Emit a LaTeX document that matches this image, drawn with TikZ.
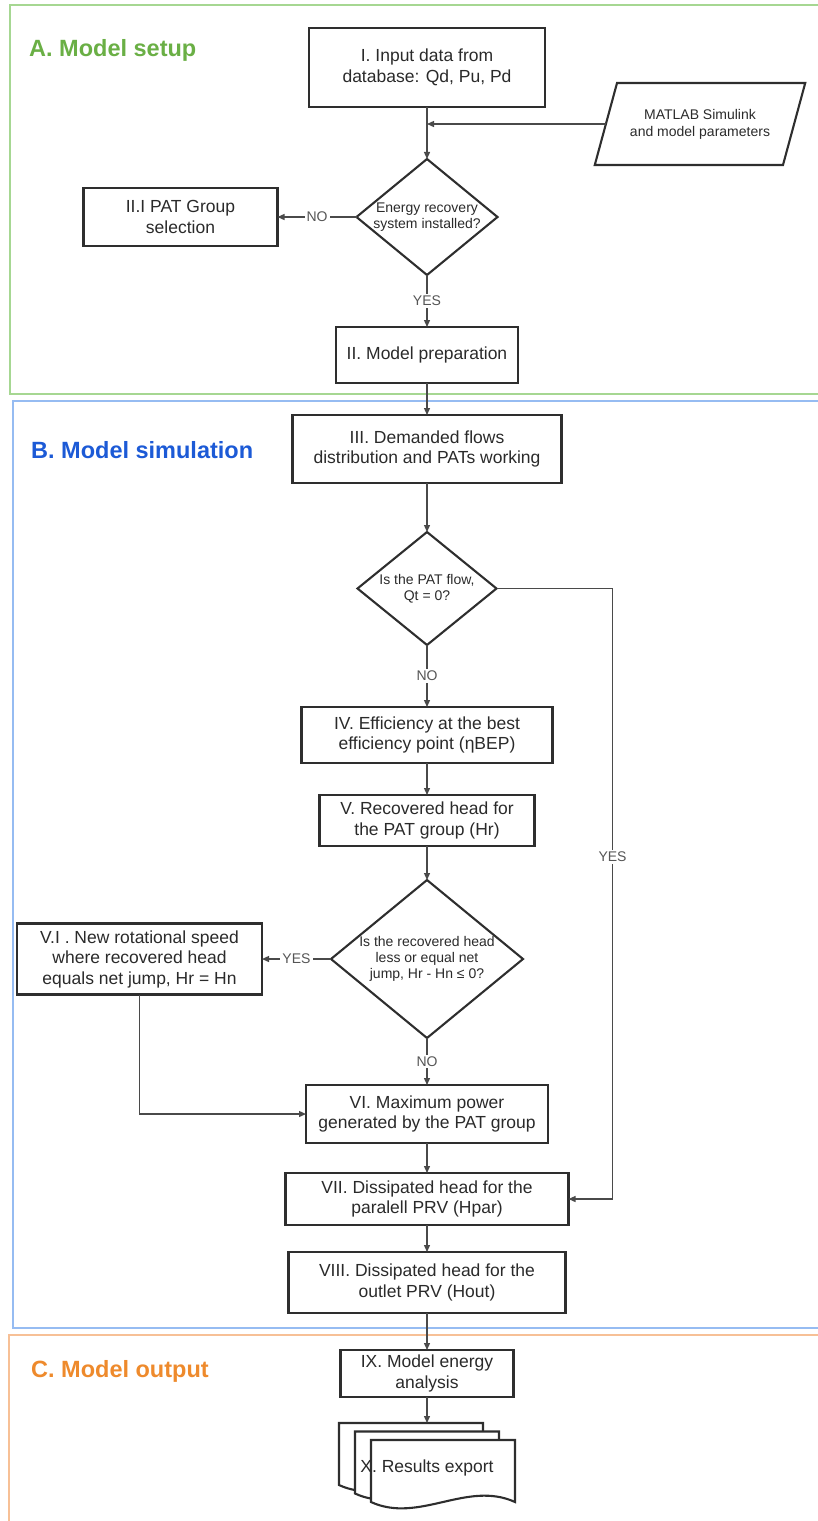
\documentclass[tikz,border=0pt]{standalone}
\usepackage{fontspec}
\setmainfont{Liberation Sans}
\usepackage{tikz}
\usetikzlibrary{positioning, calc, shapes.geometric, arrows.meta, backgrounds}
\definecolor{boxline}{HTML}{2E2E2E}
\definecolor{linegray}{HTML}{4A4A4A}
\definecolor{txtgray}{HTML}{2A2A2A}
\definecolor{lblgray}{HTML}{555555}
\definecolor{setupgreen}{HTML}{6AAF45}
\definecolor{setupframe}{HTML}{A6D792}
\definecolor{simblue}{HTML}{1C5AD6}
\definecolor{simframe}{HTML}{96BCF2}
\definecolor{outorange}{HTML}{EE8A2C}
\definecolor{outframe}{HTML}{F7C096}

\begin{document}
\begin{tikzpicture}[
        procbox/.style={rectangle, draw=boxline, line width=2.1pt, outer sep=0pt, text=txtgray, font=\fontsize{17.5}{20.5}\selectfont, align=center, inner sep=2pt},
        decision/.style={diamond, draw=boxline, line width=2.1pt, outer sep=0pt, inner sep=0pt},
        dtext/.style={text=txtgray, font=\fontsize{14}{16}\selectfont, align=center},
        datashape/.style={trapezium, trapezium left angle=58, trapezium right angle=122, trapezium stretches=true, draw=boxline, line width=2.1pt, outer sep=0pt, text=txtgray, font=\fontsize{14}{17}\selectfont, align=center, inner sep=0pt},
        flow/.style={-{Triangle[length=7pt,width=6pt]}, draw=linegray, line width=1.3pt},
        answer/.style={fill=white, text=lblgray, font=\fontsize{14}{16}\selectfont, inner sep=2pt},
        secframe/.style={line width=2pt},
        sectitle/.style={anchor=west, inner sep=0pt, font=\fontsize{23.5}{28}\selectfont\bfseries},
        sheet/.style={draw=boxline, line width=2.1pt, fill=white}]
    \useasboundingbox (0,0) rectangle (817pt,-1521pt);

    % section frames
    \draw[secframe, setupframe] (10pt,-5pt) rectangle (830pt,-394pt);
    \draw[secframe, simframe] (13pt,-401pt) rectangle (830pt,-1328pt);
    \draw[secframe, outframe] (9pt,-1335pt) rectangle (830pt,-1535pt);
    \node[sectitle, text=setupgreen] (titlesetup) at (29pt,-50pt) {A. Model setup};
    \node[sectitle, text=simblue] (titlesim) at (31pt,-450pt) {B. Model simulation};
    \node[sectitle, text=outorange] (titleout) at (31pt,-1371pt) {C. Model output};

    % model setup
    \node[procbox, minimum width=236pt, minimum height=79pt] (input) at (427pt,-67.5pt) {I. Input data from\\database: Qd, Pu, Pd};
    \node[datashape, minimum width=211pt, minimum height=82pt] (matlab) at ($(input)+(273pt,-56.5pt)$) {MATLAB Simulink\\and model parameters};
    \node[decision, minimum width=141pt, minimum height=116pt, below=52pt of input, label={[dtext]center:Energy recovery\\system installed?}] (recovery) {};
    \node[procbox, minimum width=194pt, minimum height=58pt, left=79pt of recovery] (groupsel) {II.I PAT Group\\selection};
    \node[procbox, minimum width=182pt, minimum height=56pt, below=52pt of recovery] (prep) {II. Model preparation};

    % model simulation
    \node[procbox, minimum width=269pt, minimum height=68pt, below=32pt of prep] (demand) {III. Demanded flows\\distribution and PATs working};
    \node[decision, minimum width=139pt, minimum height=113pt, below=49pt of demand, label={[dtext]center:Is the PAT flow,\\Qt = 0?}] (patflow) {};
    \node[procbox, minimum width=251pt, minimum height=56pt, below=62pt of patflow] (effic) {IV. Efficiency at the best\\efficiency point (ηBEP)};
    \node[procbox, minimum width=215pt, minimum height=51pt, below=32pt of effic] (rechead) {V. Recovered head for\\the PAT group (Hr)};
    \node[decision, minimum width=192pt, minimum height=158pt, below=34pt of rechead, label={[dtext]center:Is the recovered head\\less or equal net\\jump, Hr - Hn ≤ 0?}] (netjump) {};
    \node[procbox, minimum width=245pt, minimum height=71pt, left=69pt of netjump] (newspeed) {V.I . New rotational speed\\where recovered head\\equals net jump, Hr = Hn};
    \node[procbox, minimum width=242pt, minimum height=58pt, below=47pt of netjump] (maxpower) {VI. Maximum power\\generated by the PAT group};
    \node[procbox, minimum width=283pt, minimum height=52pt, below=30pt of maxpower] (parallel) {VII. Dissipated head for the\\paralell PRV (Hpar)};
    \node[procbox, minimum width=277pt, minimum height=61pt, below=27pt of parallel] (outlet) {VIII. Dissipated head for the\\outlet PRV (Hout)};

    % model output
    \node[procbox, minimum width=173pt, minimum height=47pt, below=37pt of outlet] (energy) {IX. Model energy\\analysis};
    \node[procbox, draw=none, minimum width=176pt, minimum height=79pt, text height=19pt, text depth=0pt, below=26pt of energy] (results) {X. Results export};
    \begin{scope}[on background layer]
        \foreach \k in {0,1,2}
            \draw[sheet, shift={($(results.north west)+(\k*16pt,-\k*8.5pt)$)}] (0,0) -- (0,-62pt) .. controls (48pt,-84pt) and (96pt,-40pt) .. (144pt,-62pt) -- (144pt,0) -- cycle;
    \end{scope}

    % connectors
    \coordinate (merge) at (input.south |- matlab.west);
    \draw[flow] (input) -- (recovery);
    \draw[flow] (matlab.west) -- (merge);
    \draw[flow] (recovery) -- node[answer] {NO} (groupsel);
    \draw[flow] (recovery) -- node[answer] {YES} (prep);
    \draw[flow] (prep) -- (demand);
    \draw[flow] (demand) -- (patflow);
    \draw[flow] (patflow) -- node[answer] {NO} (effic);
    \draw[flow] (patflow.east) -- ++(116pt,0) |- node[answer, pos=0.22] {YES} (parallel.east);
    \draw[flow] (effic) -- (rechead);
    \draw[flow] (rechead) -- (netjump);
    \draw[flow] (netjump) -- node[answer] {YES} (newspeed);
    \draw[flow] (netjump) -- node[answer] {NO} (maxpower);
    \draw[flow] (newspeed) |- (maxpower);
    \draw[flow] (maxpower) -- (parallel);
    \draw[flow] (parallel) -- (outlet);
    \draw[flow] (outlet) -- (energy);
    \draw[flow] (energy) -- (results);
\end{tikzpicture}
\end{document}
